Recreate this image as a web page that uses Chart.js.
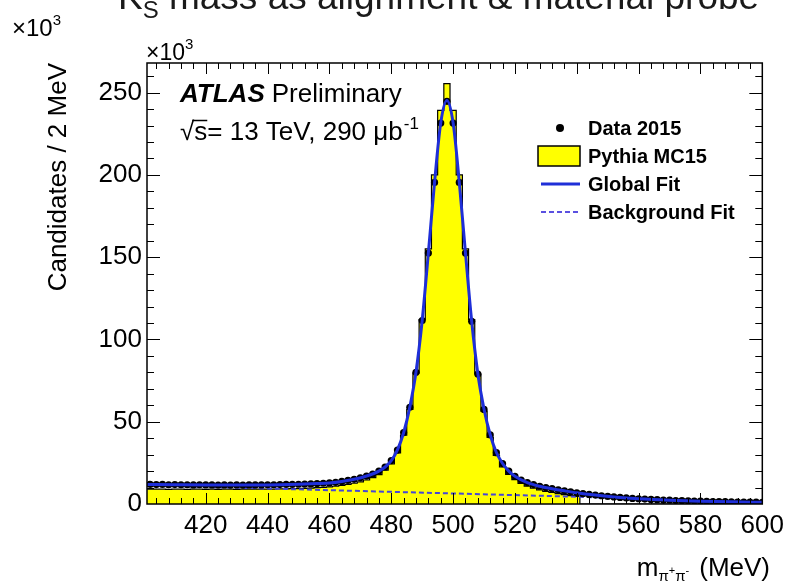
<!DOCTYPE html>
<html>
<head>
<meta charset="utf-8">
<script src="https://cdn.jsdelivr.net/npm/chart.js@4.4.1/dist/chart.umd.min.js"></script>
<style>
  html, body { margin: 0; padding: 0; background: #fff; }
  canvas { display: block; }
</style>
</head>
<body>
<canvas id="grafico" width="790" height="585"></canvas>
<script>
// m(pi+ pi-) spectrum, 2 MeV bins, counts in units of 10^3
const binLow = 401;
const binWidth = 2;

// data 2015, one value per bin (bin centres 402 ... 600)
const dataVals = [
  11.9, 11.8, 11.9, 11.7, 11.8, 11.7, 11.7, 11.6, 11.7, 11.6,
  11.6, 11.5, 11.6, 11.5, 11.6, 11.5, 11.6, 11.6, 11.6, 11.7,
  11.7, 11.8, 11.9, 11.9, 12.0, 12.1, 12.2, 12.4, 12.6, 12.8,
  13.2, 13.7, 14.3, 15.0, 15.9, 17.0, 18.2, 20.0, 22.5, 26.3,
  32.8, 43.4, 58.8, 80.0, 111.5, 152.5, 195.4, 231.5, 244.7, 231.5,
  195.4, 152.5, 111.0, 79.0, 57.5, 42.0, 31.2, 24.5, 20.0, 16.8,
  14.5, 13.0, 11.8, 10.8, 10.0, 9.3, 8.6, 8.0, 7.4, 6.8,
  6.3, 5.8, 5.4, 5.0, 4.6, 4.3, 4.0, 3.7, 3.4, 3.2,
  3.0, 2.8, 2.6, 2.4, 2.3, 2.1, 2.0, 1.9, 1.8, 1.7,
  1.6, 1.5, 1.4, 1.4, 1.3, 1.2, 1.2, 1.1, 1.1, 1.0
];

// pythia MC15, same binning
const mcVals = [
  9.0, 9.1, 9.0, 8.9, 9.0, 9.0, 8.9, 9.0, 9.0, 8.9,
  9.0, 8.9, 9.0, 9.0, 8.9, 9.0, 9.0, 9.1, 9.0, 9.1,
  9.1, 9.2, 9.2, 9.3, 9.4, 9.5, 9.7, 9.9, 10.1, 10.4,
  10.8, 11.3, 11.9, 12.6, 13.5, 14.6, 16.0, 17.9, 20.5, 24.3,
  31.0, 41.8, 57.5, 79.5, 112.0, 155.0, 200.0, 239.2, 255.5, 239.2,
  200.0, 155.0, 112.0, 79.0, 56.5, 40.5, 29.5, 22.5, 18.0, 14.8,
  12.5, 10.9, 9.6, 8.6, 7.7, 7.0, 6.3, 5.7, 5.1, 4.6,
  0, 0, 0, 0, 0, 0, 0, 0, 0, 0,
  0, 0, 0, 0, 0, 0, 0, 0, 0, 0,
  0, 0, 0, 0, 0, 0, 0, 0, 0, 0
];

// global fit (signal + background)
const fitMass = [401, 410, 420, 430, 440, 450, 456, 460, 464, 468, 472, 476,
  478, 480, 482, 484, 486, 488, 490, 492, 494, 496, 498, 500, 502, 504, 506,
  508, 510, 512, 514, 516, 518, 520, 524, 528, 532, 536, 540, 546, 552, 560,
  570, 580, 590, 600];
const fitVals = [11.9, 11.75, 11.6, 11.55, 11.6, 12.0, 12.4, 12.8, 13.7, 15.0,
  17.0, 20.0, 22.5, 26.3, 32.9, 43.3, 58.9, 80.2, 111.5, 152.6, 195.5, 231.6,
  245.2, 231.6, 195.5, 152.6, 111.2, 79.2, 57.6, 42.1, 31.3, 24.6, 20.0, 16.9,
  13.0, 10.8, 9.3, 8.0, 6.8, 5.4, 4.3, 3.2, 2.3, 1.7, 1.3, 1.0];

// background component of the fit
const bkgMass = [401, 420, 440, 460, 480, 500, 520, 540, 560, 580, 600];
const bkgVals = [11.3, 10.4, 9.4, 8.4, 7.4, 6.4, 5.4, 4.4, 3.3, 2.1, 0.9];

const xTicks = [420, 440, 460, 480, 500, 520, 540, 560, 580, 600];
const yTicks = [0, 50, 100, 150, 200, 250];

const FONT = '"Liberation Sans", Arial, Helvetica, sans-serif';

// ROOT style frame: box plus inward ticks on all four sides
const rootFrame = {
  id: 'rootFrame',
  afterDatasetsDraw(chart) {
    const ctx = chart.ctx;
    const a = chart.chartArea;
    const x = chart.scales.x, y = chart.scales.y;
    ctx.save();
    ctx.strokeStyle = '#000';
    ctx.lineWidth = 1;
    ctx.beginPath();
    for (let m = 404; m <= 600; m += 4) {
      const px = Math.round(x.getPixelForValue(m)) + 0.5;
      const len = m % 20 === 0 ? 11 : 6;
      ctx.moveTo(px, a.bottom); ctx.lineTo(px, a.bottom - len);
      ctx.moveTo(px, a.top); ctx.lineTo(px, a.top + len);
    }
    for (let v = 10; v <= 260; v += 10) {
      const py = Math.round(y.getPixelForValue(v)) + 0.5;
      const len = v % 50 === 0 ? 13 : 7;
      ctx.moveTo(a.left, py); ctx.lineTo(a.left + len, py);
      ctx.moveTo(a.right, py); ctx.lineTo(a.right - len, py);
    }
    ctx.stroke();
    ctx.lineWidth = 1.5;
    ctx.strokeRect(a.left, a.top, a.right - a.left, a.bottom - a.top);
    ctx.restore();
  }
};

function txt(ctx, s, x, y, size, weight, align) {
  ctx.font = (weight || 'normal') + ' ' + size + 'px ' + FONT;
  ctx.textAlign = align || 'left';
  ctx.fillText(s, x, y);
  return ctx.measureText(s).width;
}

// labels, legend and axis titles
const annotations = {
  id: 'annotations',
  afterDraw(chart) {
    const ctx = chart.ctx;
    const a = chart.chartArea;
    ctx.save();
    ctx.textBaseline = 'alphabetic';

    // page title (runs off the top edge)
    ctx.fillStyle = '#1a1a1a';
    let w = txt(ctx, 'K', 118, 9, 37);
    let w2 = txt(ctx, 'S', 118 + w, 18, 24);
    txt(ctx, ' mass as alignment & material probe', 118 + w + w2, 9, 37);

    ctx.fillStyle = '#000';
    // multipliers
    w = txt(ctx, '\u00d710', 12, 36, 24);
    txt(ctx, '3', 12 + w, 25, 15);
    w = txt(ctx, '\u00d710', 146, 60, 23);
    txt(ctx, '3', 146 + w, 49, 15);

    // ATLAS Preliminary
    w = txt(ctx, 'ATLAS', 180, 102, 26, 'italic bold');
    txt(ctx, 'Preliminary', 180 + w + 7, 102, 26);
    w = txt(ctx, '\u221a', 180, 140, 26);
    const sx = 180 + w;
    w2 = txt(ctx, 's', sx, 140, 26);
    ctx.strokeStyle = '#000';
    ctx.lineWidth = 1.5;
    ctx.beginPath();
    ctx.moveTo(sx - 2, 120.5); ctx.lineTo(sx + w2, 120.5);
    ctx.stroke();
    const w3 = txt(ctx, '= 13 TeV, 290 \u03bcb', sx + w2, 140, 26);
    txt(ctx, '-1', sx + w2 + w3 + 1, 129, 17);

    // legend
    const lx = 588;
    const rows = [128, 156, 184, 212];
    ctx.textBaseline = 'middle';
    ctx.fillStyle = '#000';
    ctx.beginPath();
    ctx.arc(560, rows[0], 4, 0, Math.PI * 2);
    ctx.fill();
    ctx.fillStyle = '#ffff00';
    ctx.fillRect(538, rows[1] - 10, 42, 20);
    ctx.strokeStyle = '#000';
    ctx.lineWidth = 1.5;
    ctx.strokeRect(538, rows[1] - 10, 42, 20);
    ctx.strokeStyle = '#1f2fd8';
    ctx.lineWidth = 3;
    ctx.beginPath();
    ctx.moveTo(541, rows[2]); ctx.lineTo(580, rows[2]);
    ctx.stroke();
    ctx.strokeStyle = '#5a50e0';
    ctx.lineWidth = 2;
    ctx.setLineDash([5, 3]);
    ctx.beginPath();
    ctx.moveTo(541, rows[3]); ctx.lineTo(580, rows[3]);
    ctx.stroke();
    ctx.setLineDash([]);
    ctx.fillStyle = '#000';
    ['Data 2015', 'Pythia MC15', 'Global Fit', 'Background Fit'].forEach((s, i) => {
      txt(ctx, s, lx, rows[i] + 1, 20, 'bold');
    });

    // y axis title
    ctx.save();
    ctx.translate(59, a.top);
    ctx.rotate(-Math.PI / 2);
    ctx.textBaseline = 'middle';
    txt(ctx, 'Candidates / 2 MeV', 0, 0, 26, 'normal', 'right');
    ctx.restore();

    // x axis title
    ctx.textBaseline = 'alphabetic';
    ctx.font = '26px ' + FONT;
    const wRest = ctx.measureText(' (MeV)').width;
    const wm = ctx.measureText('m').width;
    ctx.font = '15px ' + FONT;
    const wPi = ctx.measureText('\u03c0').width;
    ctx.font = '11px ' + FONT;
    const wSign = ctx.measureText('+').width;
    const x0 = 770 - (wm + 2 * wPi + 2 * wSign + wRest);
    const base = 576;
    txt(ctx, 'm', x0, base, 26);
    let cx = x0 + wm;
    txt(ctx, '\u03c0', cx, base + 5, 15); cx += wPi;
    txt(ctx, '+', cx, base - 2, 11); cx += wSign;
    txt(ctx, '\u03c0', cx, base + 5, 15); cx += wPi;
    txt(ctx, '-', cx, base - 2, 11); cx += wSign;
    txt(ctx, ' (MeV)', cx, base, 26);
    ctx.restore();
  }
};

new Chart(document.getElementById('grafico'), {
  type: 'line',
  data: {
    datasets: [{
      label: 'Global Fit',
      data: fitMass.map((m, i) => ({ x: m, y: fitVals[i] })),
      borderColor: '#1f2fd8',
      borderWidth: 3,
      pointRadius: 0,
      cubicInterpolationMode: 'monotone',
      order: 1
    }, {
      label: 'Data 2015',
      data: dataVals.map((v, i) => ({ x: binLow + binWidth / 2 + i * binWidth, y: v })),
      showLine: false,
      pointRadius: 3.6,
      pointBackgroundColor: '#000',
      pointBorderWidth: 0,
      order: 2
    }, {
      label: 'Background Fit',
      data: bkgMass.map((m, i) => ({ x: m, y: bkgVals[i] })),
      borderColor: '#4646d8',
      borderWidth: 2,
      borderDash: [5, 3],
      pointRadius: 0,
      cubicInterpolationMode: 'monotone',
      order: 3
    }, {
      label: 'Pythia MC15',
      data: mcVals.map((v, i) => ({ x: binLow + i * binWidth, y: v })),
      stepped: 'before',
      fill: 'origin',
      backgroundColor: '#ffff00',
      borderColor: '#000',
      borderWidth: 1.2,
      pointRadius: 0,
      order: 4
    }]
  },
  options: {
    responsive: false,
    animation: false,
    layout: { padding: { top: 63, right: 22, left: 0, bottom: 0 } },
    plugins: { legend: { display: false }, tooltip: { enabled: false } },
    scales: {
      x: {
        type: 'linear',
        min: 401,
        max: 600,
        afterFit(s) { s.height = 81; },
        afterBuildTicks(s) { s.ticks = xTicks.map(v => ({ value: v })); },
        grid: { display: false, drawTicks: false },
        border: { display: false },
        ticks: { color: '#000', font: { family: FONT, size: 26 }, padding: 6, maxRotation: 0, autoSkip: false }
      },
      y: {
        min: 0,
        max: 268,
        afterFit(s) { s.width = 147; },
        afterBuildTicks(s) { s.ticks = yTicks.map(v => ({ value: v })); },
        grid: { display: false, drawTicks: false },
        border: { display: false },
        ticks: { color: '#000', font: { family: FONT, size: 26 }, padding: 5 }
      }
    }
  },
  plugins: [rootFrame, annotations]
});
</script>
</body>
</html>
